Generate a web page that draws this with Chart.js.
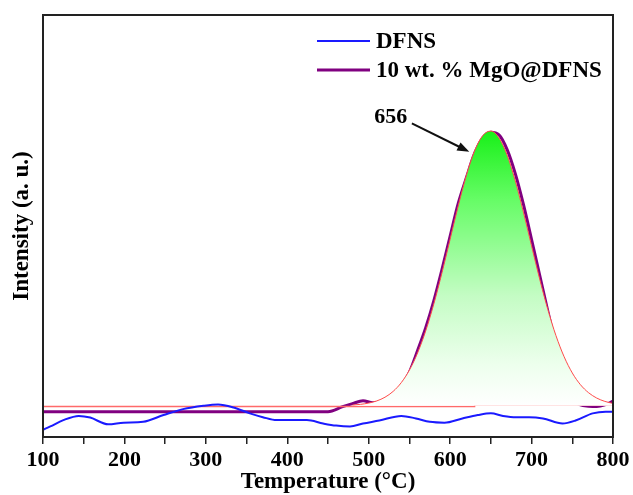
<!DOCTYPE html>
<html><head><meta charset="utf-8">
<script src="https://cdn.jsdelivr.net/npm/chart.js@4/dist/chart.umd.min.js"></script>
<style>html,body{margin:0;padding:0;background:#fff;}#wrap{width:633px;height:495px;}</style>
</head><body><div id="wrap"><canvas id="c" width="633" height="495"></canvas></div>
<script>
// ---- data ----
const xTickValues = [100, 200, 300, 400, 500, 600, 700, 800];
const seriesLabels = ['DFNS', '10 wt. % MgO@DFNS'];

const dfnsT = [100,109,125,144,158,180,199,223,248,272,297,315,334,354,370,387,411,424,444,460,477,493,513,540,558,575,593,615,634,650,665,681,697,714,738,754,775,791,800];
const dfnsI = [1.7,2.5,4.0,5.0,4.6,3.0,3.4,3.6,5.2,6.6,7.4,7.7,7.0,5.6,4.7,4.0,4.0,4.0,3.2,2.7,2.5,3.2,3.9,5.0,4.4,3.6,3.4,4.4,5.2,5.6,5.0,4.7,4.7,4.4,3.2,3.9,5.6,6.0,6.0];

const mgoT = [100,450,468,480,493,505,519,530,540,550,560,570,580,590,600,610,620,630,640,650,660,670,680,690,700,710,720,730,740,750,760,770,780,790,800];
const mgoI = [6.0,6.0,7.2,7.9,8.6,8.1,8.4,9.8,12.0,15.4,20.5,25.9,32.3,39.7,47.6,55.4,61.5,67.2,70.9,72.2,71.6,68.1,62.4,55.1,46.8,38.3,29.8,21.5,14.0,9.0,7.6,7.3,7.2,7.6,8.5];

const fitT = [480,490,500,510,520,530,540,550,560,570,580,590,600,610,620,630,640,650,660,670,680,690,700,710,720,730,740,750,760,770,780,790,800];
const fitI = [7.57,7.74,8.04,8.56,9.43,10.81,12.89,15.86,19.91,25.15,31.56,38.94,46.89,54.82,62.04,67.79,71.41,72.5,70.88,66.79,60.69,53.28,45.28,37.4,30.19,24.0,19.01,15.18,12.4,10.49,9.23,8.44,7.96];

const baseT = [100,630,630,800];
const baseI = [7.2,7.2,7.6,7.6];

const peakLabel = '656';
const peakLabelAt = [527, 75.7];
const peakArrowFrom = [553, 74.3];
const peakArrowTo = [623.5, 67.6];

const toPts = (xs, ys) => xs.map((x, i) => ({x: x, y: ys[i]}));
const FONT = 'Liberation Serif, Times New Roman, serif';

const extras = {
  id: 'extras',
  afterDraw(chart) {
    const ctx = chart.ctx, a = chart.chartArea;
    const xs = chart.scales.x, ys = chart.scales.y;
    ctx.save();
    // frame
    ctx.strokeStyle = '#222'; ctx.lineWidth = 2;
    ctx.strokeRect(a.left, a.top, a.right - a.left, a.bottom - a.top);
    // legend
    const items = [{c: '#1a1aff', w: 2, y: 41}, {c: '#800080', w: 3, y: 70}];
    ctx.font = 'bold 23px ' + FONT; ctx.fillStyle = '#000';
    ctx.textBaseline = 'middle'; ctx.textAlign = 'left';
    items.forEach((it, i) => {
      ctx.strokeStyle = it.c; ctx.lineWidth = it.w;
      ctx.beginPath(); ctx.moveTo(317, it.y); ctx.lineTo(370, it.y); ctx.stroke();
      ctx.fillText(chart.data.datasets[i].label, 376, it.y + 1);
    });
    // annotation
    ctx.font = 'bold 22px ' + FONT;
    ctx.textAlign = 'center';
    ctx.fillText(peakLabel, xs.getPixelForValue(peakLabelAt[0]), ys.getPixelForValue(peakLabelAt[1]));
    const x1 = xs.getPixelForValue(peakArrowFrom[0]), y1 = ys.getPixelForValue(peakArrowFrom[1]);
    const x2 = xs.getPixelForValue(peakArrowTo[0]), y2 = ys.getPixelForValue(peakArrowTo[1]);
    const ang = Math.atan2(y2 - y1, x2 - x1);
    ctx.strokeStyle = '#111'; ctx.lineWidth = 2;
    ctx.beginPath(); ctx.moveTo(x1, y1);
    ctx.lineTo(x2 - 9 * Math.cos(ang), y2 - 9 * Math.sin(ang)); ctx.stroke();
    ctx.fillStyle = '#111';
    ctx.beginPath(); ctx.moveTo(x2, y2);
    ctx.lineTo(x2 - 12 * Math.cos(ang) + 4.5 * Math.sin(ang), y2 - 12 * Math.sin(ang) - 4.5 * Math.cos(ang));
    ctx.lineTo(x2 - 12 * Math.cos(ang) - 4.5 * Math.sin(ang), y2 - 12 * Math.sin(ang) + 4.5 * Math.cos(ang));
    ctx.closePath(); ctx.fill();
    ctx.restore();
  }
};

function greenGrad(context) {
  const chart = context.chart, a = chart.chartArea;
  if (!a) return 'rgba(0,255,0,0.5)';
  const ys = chart.scales.y;
  const top = ys.getPixelForValue(72.5), bot = ys.getPixelForValue(7.4);
  const g = chart.ctx.createLinearGradient(0, top, 0, bot);
  g.addColorStop(0, '#18f018');
  g.addColorStop(0.25, '#66fc66');
  g.addColorStop(0.6, '#c4fcc4');
  g.addColorStop(0.85, '#edffed');
  g.addColorStop(1, '#ffffff');
  return g;
}

new Chart(document.getElementById('c'), {
  type: 'line',
  data: {
    datasets: [
      {label: seriesLabels[0], data: toPts(dfnsT, dfnsI), borderColor: '#1a1aff', borderWidth: 2, pointRadius: 0, tension: 0.4, cubicInterpolationMode: 'monotone', fill: false, order: 1},
      {label: seriesLabels[1], data: toPts(mgoT, mgoI), borderColor: '#800080', borderWidth: 3, pointRadius: 0, cubicInterpolationMode: 'monotone', fill: false, order: 5},
      {label: 'fit', data: toPts(fitT, fitI), borderColor: '#ff4a4a', borderWidth: 1, pointRadius: 0, cubicInterpolationMode: 'monotone', fill: {value: 7.4}, backgroundColor: greenGrad, order: 3},
      {label: 'baseline', data: toPts(baseT, baseI), borderColor: '#ff6a6a', borderWidth: 1.5, pointRadius: 0, tension: 0, fill: false, order: 4}
    ]
  },
  options: {
    responsive: false, animation: false, devicePixelRatio: 1,
    layout: {padding: {top: 15, right: 20, left: 0, bottom: 0}},
    plugins: {legend: {display: false}, tooltip: {enabled: false}},
    scales: {
      x: {
        type: 'linear', min: 100, max: 800,
        afterFit: s => { s.height = 58; },
        afterBuildTicks: s => { const t = []; for (let v = 100; v <= 800; v += 50) t.push({value: v}); s.ticks = t; },
        ticks: {
          autoSkip: false, maxRotation: 0, padding: 3, color: '#000',
          font: {family: FONT, weight: 'bold', size: 22},
          callback: v => xTickValues.includes(v) ? String(v) : ''
        },
        grid: {drawOnChartArea: false, drawTicks: true, tickLength: 7, color: '#222', lineWidth: 1.5},
        border: {display: false},
        title: {display: true, text: 'Temperature (°C)', color: '#000', font: {family: FONT, weight: 'bold', size: 23, lineHeight: 1.1}, padding: {top: 0, bottom: 0}}
      },
      y: {
        type: 'linear', min: 0, max: 100,
        afterFit: s => { s.width = 43; },
        ticks: {display: false},
        grid: {display: false},
        border: {display: false},
        title: {display: true, text: 'Intensity (a. u.)', color: '#000', font: {family: FONT, weight: 'bold', size: 23, lineHeight: 1.1}, padding: {top: 9, bottom: 0}}
      }
    }
  },
  plugins: [extras]
});
</script></body></html>
